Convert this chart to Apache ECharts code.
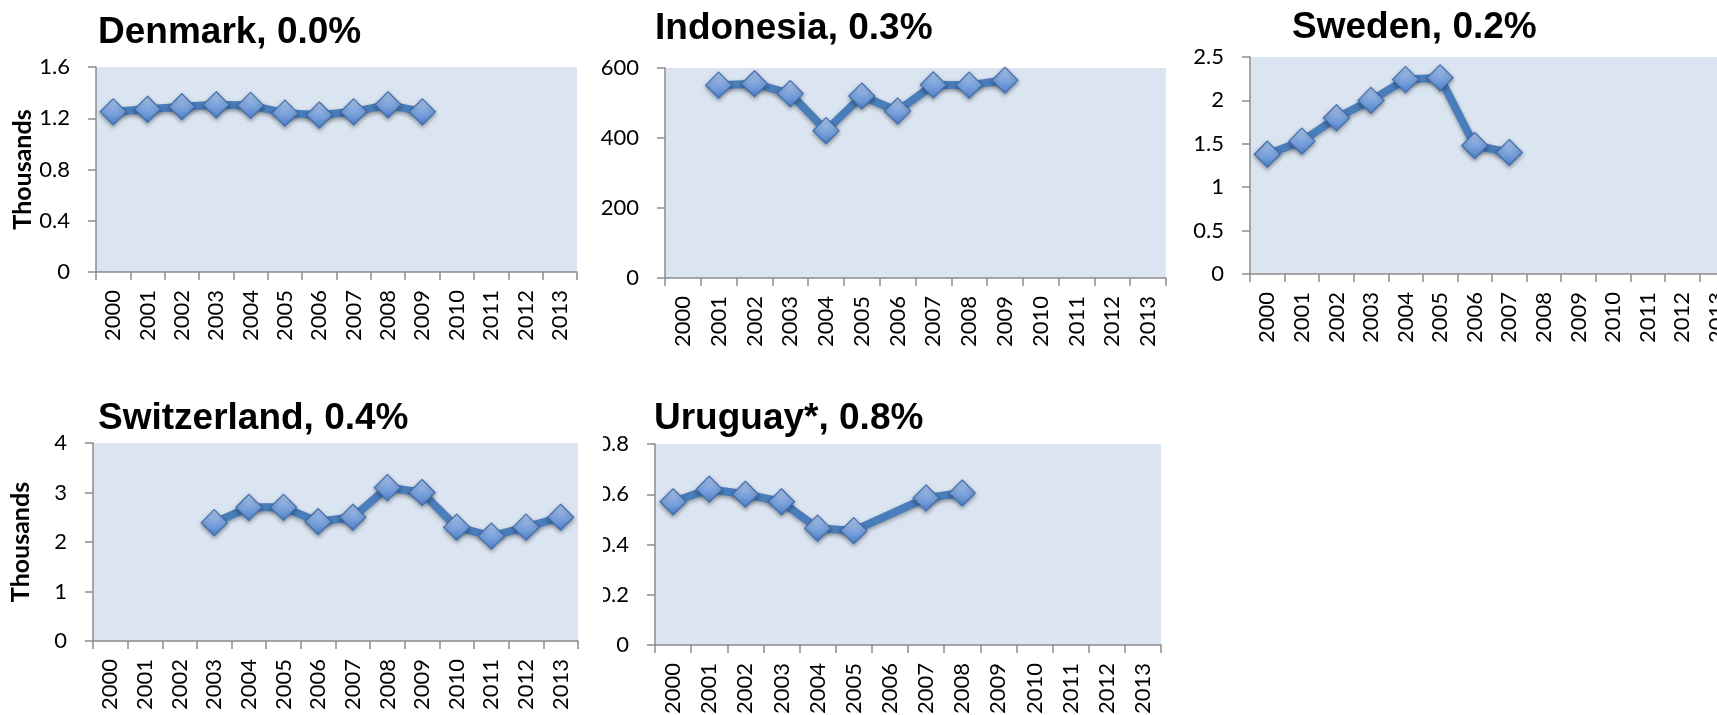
<!DOCTYPE html>
<html>
<head>
<meta charset="utf-8">
<style>
html,body{margin:0;padding:0;background:#fff;}
#chart{width:1717px;height:715px;}
</style>
<script src="https://cdn.jsdelivr.net/npm/echarts@6/dist/echarts.min.js"></script>
</head>
<body>
<div id="chart"></div>
<script>
// ---- data ----
const years = ['2000','2001','2002','2003','2004','2005','2006','2007','2008','2009','2010','2011','2012','2013'];
const titles = ['Denmark, 0.0%','Indonesia, 0.3%','Sweden, 0.2%','Switzerland, 0.4%','Uruguay*, 0.8%'];
const denmark     = [1.25,1.27,1.29,1.305,1.30,1.24,1.225,1.25,1.305,1.25,null,null,null,null];
const indonesia   = [null,551,555,527,421,520,477,552,551,565,null,null,null,null];
const sweden      = [1.38,1.53,1.80,2.00,2.24,2.26,1.48,1.40,null,null,null,null,null,null];
const switzerland = [null,null,null,2.39,2.70,2.70,2.41,2.50,3.10,3.00,2.30,2.12,2.30,2.50];
const uruguay     = [0.57,0.62,0.60,0.57,0.465,0.455,null,0.585,0.605,null,null,null,null,null];
const yMax      = [1.6, 600, 2.5, 4, 0.8];
const yInterval = [0.4, 200, 0.5, 1, 0.2];
const yNames    = ['Thousands','','','Thousands',''];
const seriesData = [denmark, indonesia, sweden, switzerland, uruguay];

// ---- layout / style ----
const grids = [
  {left:96,  top:67,  right:1140, bottom:443},
  {left:665, top:68,  right:551,  bottom:437},
  {left:1250,top:57,  right:-17,  bottom:441},
  {left:93,  top:443, right:1139, bottom:74},
  {left:655, top:444, right:556,  bottom:70}
];
const titlePos = [
  {left:98, top:14},
  {left:655,top:10},
  {left:1292,top:9},
  {left:98, top:400},
  {left:654,top:400}
];
const axisColor = '#8C8C8C';
const labelFont = 'Lato, "Noto Sans", sans-serif';

const chart = echarts.init(document.getElementById('chart'), null, {renderer:'canvas'});
const option = {
  animation:false,
  backgroundColor:'#fff',
  title: titles.map((t,i)=>({
    text:t, left:titlePos[i].left, top:titlePos[i].top, padding:0,
    textStyle:{fontFamily:'"Liberation Sans", Arial, sans-serif', fontWeight:'bold', fontSize:37, color:'#000'}
  })),
  grid: grids.map(g=>Object.assign({show:true, backgroundColor:'#DBE5F1', borderWidth:0, outerBoundsMode:'none', containLabel:false}, g)),
  xAxis: grids.map((g,i)=>({
    type:'category', gridIndex:i, data:years, boundaryGap:true,
    axisLine:{show:true, onZero:false, lineStyle:{color:axisColor, width:1.5}},
    axisTick:{show:true, inside:false, length:8, interval:0, alignWithLabel:false, lineStyle:{color:axisColor, width:1.5}},
    axisLabel:{show:true, interval:0, rotate:90, margin:18, color:'#000', fontFamily:labelFont, fontSize:22},
    splitLine:{show:false}
  })),
  yAxis: grids.map((g,i)=>({
    type:'value', gridIndex:i, min:0, max:yMax[i], interval:yInterval[i],
    name:yNames[i], nameLocation:'middle', nameRotate:90, nameGap:60,
    nameTextStyle:{fontFamily:labelFont, fontWeight:'bold', fontSize:25, color:'#000'},
    axisLine:{show:true, lineStyle:{color:axisColor, width:1.5}},
    axisTick:{show:true, inside:false, length:8, lineStyle:{color:axisColor, width:1.5}},
    axisLabel:{show:true, margin:26, color:'#000', fontFamily:labelFont, fontSize:22},
    splitLine:{show:false}
  })),
  series: seriesData.map((d,i)=>({
    type:'line', xAxisIndex:i, yAxisIndex:i, data:d,
    connectNulls:true,
    symbol:'diamond', symbolSize:[26,26], showSymbol:true,
    lineStyle:{color:'#4A7EBB', width:8, shadowColor:'rgba(0,0,0,0.35)', shadowBlur:4, shadowOffsetY:2},
    itemStyle:{
      color:{type:'linear',x:0,y:0,x2:0,y2:1,colorStops:[{offset:0,color:'#B5CCEE'},{offset:0.5,color:'#7FA5DE'},{offset:1,color:'#4F81C9'}]},
      borderColor:'#3E6FB3', borderWidth:1.2,
      shadowColor:'rgba(0,0,0,0.35)', shadowBlur:4, shadowOffsetY:2
    },
    emphasis:{disabled:true},
    z:3
  })),
  graphic:[
    {type:'rect', z:100, shape:{x:585, y:430, width:18, height:230}, style:{fill:'#fff'}}
  ]
};
chart.setOption(option);
</script>
</body>
</html>
